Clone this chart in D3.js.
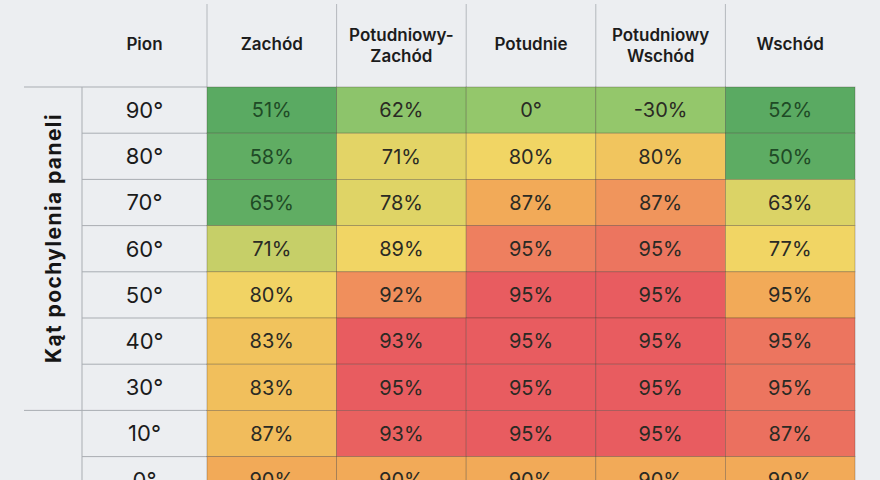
<!DOCTYPE html>
<html>
<head>
<meta charset="utf-8">
<script src="https://cdn.jsdelivr.net/npm/d3@7"></script>
<style>
  html, body { margin: 0; padding: 0; background: #eceef1; }
  svg { display: block; font-family: Inter, "Open Sans", sans-serif; }
</style>
</head>
<body>
<svg id="chart" width="880" height="480"></svg>
<script>
// columns (orientation) and rows (tilt angle)
const columns = ['Zachód', 'Potudniowy-Zachód', 'Potudnie', 'Potudniowy Wschód', 'Wschód'];
const columnLines = [['Zachód'], ['Potudniowy-', 'Zachód'], ['Potudnie'], ['Potudniowy', 'Wschód'], ['Wschód']];
const rows = ['90°', '80°', '70°', '60°', '50°', '40°', '30°', '10°', '0°'];

// cell labels as printed
const values = [
  ['51%', '62%', '0°', '-30%', '52%'],
  ['58%', '71%', '80%', '80%', '50%'],
  ['65%', '78%', '87%', '87%', '63%'],
  ['71%', '89%', '95%', '95%', '77%'],
  ['80%', '92%', '95%', '95%', '95%'],
  ['83%', '93%', '95%', '95%', '95%'],
  ['83%', '95%', '95%', '95%', '95%'],
  ['87%', '93%', '95%', '95%', '87%'],
  ['90%', '90%', '90%', '90%', '90%']
];

// heat level of each cell (0 = green, 1 = red)
const heat = [
  [0.00, 0.17, 0.19, 0.19, 0.00],
  [0.02, 0.41, 0.46, 0.55, 0.01],
  [0.02, 0.40, 0.70, 0.78, 0.39],
  [0.33, 0.46, 0.86, 0.90, 0.46],
  [0.47, 0.80, 1.00, 1.00, 0.70],
  [0.56, 1.00, 1.00, 1.00, 0.90],
  [0.58, 1.00, 1.00, 1.00, 0.90],
  [0.60, 0.98, 1.00, 1.00, 0.92],
  [0.70, 0.70, 0.70, 0.70, 0.70]
];

const rowHeader = 'Pion';
const sideTitle = 'Kąt pochylenia paneli';
const groupBreakAfter = '30°';

const svg = d3.select('#chart');

const dims = {
  left: 24, labelX0: 82, gridX0: 207, gridX1: 855,
  top: 4, headerBottom: 87, rowH: 46.2
};

const x = d3.scaleBand().domain(columns).range([dims.gridX0, dims.gridX1]);
const y = d3.scaleBand().domain(rows).range([dims.headerBottom, dims.headerBottom + rows.length * dims.rowH]);

const color = d3.scaleLinear()
  .domain([0, 0.18, 0.45, 0.56, 0.7, 0.86, 1])
  .range(['#5aaa62', '#90c66b', '#f1d765', '#f1c35d', '#f2aa58', '#ee7f5f', '#e85c60'])
  .interpolate(d3.interpolateRgb);

const cells = [];
rows.forEach(function (r, i) {
  columns.forEach(function (c, j) {
    cells.push({ row: r, col: c, label: values[i][j], heat: heat[i][j] });
  });
});

// row-label column lines
svg.append('g').selectAll('line')
  .data(rows.slice(1))
  .enter().append('line')
  .attr('x1', dims.labelX0).attr('x2', dims.gridX0)
  .attr('y1', d => y(d)).attr('y2', d => y(d))
  .attr('stroke', '#a9adb2').attr('stroke-width', 1);

// header bottom line, group break, vertical split of label column
const breakY = y(rows[rows.indexOf(groupBreakAfter) + 1]);
svg.append('line')
  .attr('x1', dims.left).attr('x2', dims.gridX0)
  .attr('y1', dims.headerBottom).attr('y2', dims.headerBottom)
  .attr('stroke', '#a9adb2');
svg.append('line')
  .attr('x1', dims.left).attr('x2', dims.labelX0)
  .attr('y1', breakY).attr('y2', breakY)
  .attr('stroke', '#a9adb2');
svg.append('line')
  .attr('x1', dims.labelX0).attr('x2', dims.labelX0)
  .attr('y1', dims.headerBottom).attr('y2', 480)
  .attr('stroke', '#a9adb2');

// header verticals
svg.append('g').selectAll('line')
  .data(columns)
  .enter().append('line')
  .attr('x1', d => x(d)).attr('x2', d => x(d))
  .attr('y1', dims.top).attr('y2', dims.headerBottom)
  .attr('stroke', '#b4b8bd');

// cells
const cellG = svg.append('g');
cellG.selectAll('rect')
  .data(cells)
  .enter().append('rect')
  .attr('x', d => x(d.col))
  .attr('y', d => y(d.row))
  .attr('width', x.bandwidth())
  .attr('height', y.bandwidth())
  .attr('fill', d => color(d.heat))
  .attr('stroke', 'rgba(60,50,40,0.35)')
  .attr('stroke-width', 0.8);

cellG.selectAll('text')
  .data(cells)
  .enter().append('text')
  .attr('x', d => x(d.col) + x.bandwidth() / 2)
  .attr('y', d => y(d.row) + y.bandwidth() / 2)
  .attr('dy', '0.36em')
  .attr('text-anchor', 'middle')
  .attr('font-size', 20)
  .attr('font-weight', 400)
  .attr('fill', d => d.heat < 0.1 ? '#1f4a26' : '#2a2a24')
  .text(d => d.label);

// row labels
svg.append('g').selectAll('text')
  .data(rows)
  .enter().append('text')
  .attr('x', (dims.labelX0 + dims.gridX0) / 2)
  .attr('y', d => y(d) + y.bandwidth() / 2)
  .attr('dy', '0.36em')
  .attr('text-anchor', 'middle')
  .attr('font-size', 22)
  .attr('fill', '#1b1b1b')
  .text(d => d);

// column headers
const head = svg.append('g').selectAll('text')
  .data(columns)
  .enter().append('text')
  .attr('text-anchor', 'middle')
  .attr('font-size', 17)
  .attr('font-weight', 600)
  .attr('fill', '#1c1c1c');
head.each(function (d, i) {
  const lines = columnLines[i];
  const t = d3.select(this);
  const cx = x(d) + x.bandwidth() / 2;
  const y0 = 44 - (lines.length - 1) * 9;
  lines.forEach(function (ln, k) {
    t.append('tspan').attr('x', cx).attr('y', y0 + k * 21).attr('dy', '0.36em').text(ln);
  });
});

svg.append('text')
  .attr('x', (dims.labelX0 + dims.gridX0) / 2)
  .attr('y', 44).attr('dy', '0.36em')
  .attr('text-anchor', 'middle')
  .attr('font-size', 17).attr('font-weight', 600)
  .attr('fill', '#1c1c1c')
  .text(rowHeader);

svg.append('text')
  .attr('transform', 'translate(53,238) rotate(-90)')
  .attr('dy', '0.36em')
  .attr('text-anchor', 'middle')
  .attr('font-size', 21).attr('font-weight', 700)
  .attr('letter-spacing', 1.4)
  .attr('fill', '#151515')
  .text(sideTitle);
</script>
</body>
</html>
